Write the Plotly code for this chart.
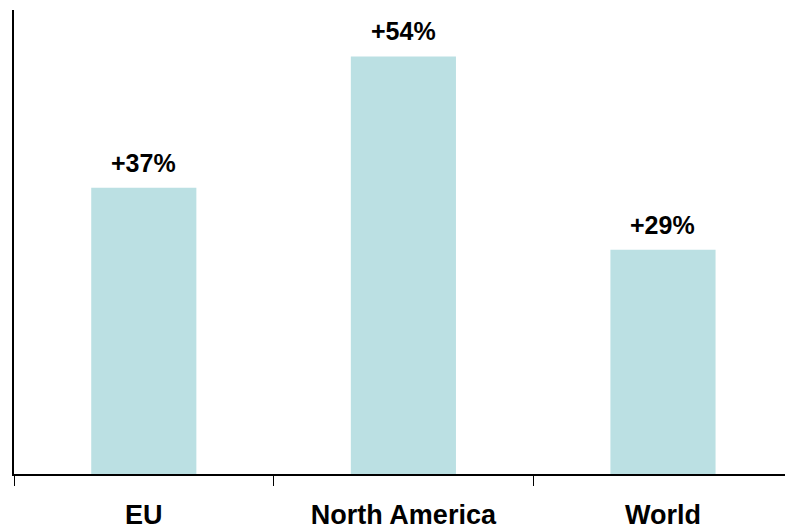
import plotly.graph_objects as go

categories = ["EU", "North America", "World"]
values = [37, 54, 29]
labels = ["+37%", "+54%", "+29%"]

bar_color = "#BBE0E3"

fig = go.Figure()
fig.add_trace(go.Bar(
    x=categories, y=values, marker=dict(color=bar_color, line=dict(width=0)),
    width=0.405, hoverinfo="skip",
))

for c, v, t in zip(categories, values, labels):
    fig.add_annotation(x=c, y=v, text=f"<b>{t}</b>", showarrow=False,
                       yanchor="bottom", yshift=9,
                       font=dict(family="Liberation Sans, Arial", size=25, color="black"))

fig.update_layout(
    width=785, height=531,
    margin=dict(l=14, r=0, t=10, b=57),
    plot_bgcolor="white", paper_bgcolor="white",
    showlegend=False,
)
fig.update_xaxes(
    type="category", range=[-0.5, 2.47], automargin=False,
    tickson="boundaries", ticks="outside", ticklen=10, tickwidth=1.2, tickcolor="black",
    ticklabelstandoff=16,
    showline=True, linecolor="black", linewidth=1.5,
    showgrid=False, zeroline=False,
    tickfont=dict(family="Liberation Sans, Arial", size=27, color="black", weight="bold"),
)
fig.update_yaxes(
    range=[0, 60], showline=True, linecolor="black", linewidth=2, automargin=False,
    showticklabels=False, ticks="", showgrid=False, zeroline=False,
)

fig.write_html("out.html")
